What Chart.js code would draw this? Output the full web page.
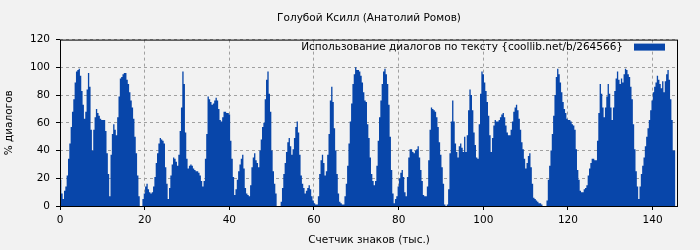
<!DOCTYPE html>
<html>
<head>
<meta charset="utf-8">
<script src="https://cdn.jsdelivr.net/npm/chart.js@4.4.1/dist/chart.umd.min.js"></script>
<style>
    html, body { margin: 0; padding: 0; background: #f2f2f2; }
</style>
</head>
<body>
<canvas id="chart" width="700" height="250"></canvas>
<script>
const chartTitle = "Голубой Ксилл (Анатолий Ромов)";
const legendLabel = "Использование диалогов по тексту {coollib.net/b/264566}";
const xTitle = "Счетчик знаков (тыс.)";
const yTitle = "% диалогов";

// one value every ~0.314 thousand characters
const xStep = 0.314;
const xMax = 146;
const yMax = 120;
const tickStep = 20;

const dialogShare = [
    27,19,9,5,11,14,22,34,45,57,68,77,89,97,98,99,94,83,73,63,
    68,84,96,86,55,40,55,64,70,67,65,63,62,62,62,54,38,23,7,37,
    52,59,55,51,64,79,92,93,95,96,96,91,88,82,76,71,63,50,38,22,
    7,0,0,5,9,14,16,12,10,9,10,14,21,31,38,45,
    49,48,47,45,28,16,5,13,22,30,35,34,32,29,37,54,71,97,88,
    53,34,27,29,30,29,27,26,25,25,24,22,18,14,18,34,52,79,77,75,
    73,74,76,78,76,70,62,61,64,68,68,67,67,66,47,34,21,8,12,19,
    25,30,34,37,27,13,9,8,7,15,28,35,38,33,31,28,40,48,57,
    60,77,91,97,81,68,40,25,16,9,0,0,0,3,13,23,31,39,46,49,
    43,37,41,49,57,61,53,37,22,16,13,9,11,13,15,12,7,4,2,1,
    1,7,23,33,37,31,22,25,37,52,76,86,75,56,40,23,9,3,2,1,
    1,7,16,29,45,61,74,88,95,100,98,98,97,94,89,82,76,
    75,59,49,35,23,18,15,18,29,47,64,76,88,97,99,95,88,73,50,26,
    9,2,5,7,14,20,24,26,21,10,7,21,35,41,41,39,38,40,41,43,
    35,26,18,8,7,7,14,33,55,71,70,69,68,64,57,46,37,28,16,1,
    0,1,12,38,61,76,61,45,39,35,43,45,42,39,50,39,
    51,69,84,80,69,53,44,35,34,59,81,97,95,89,83,75,65,51,39,49,
    58,62,61,61,62,64,66,67,64,58,53,51,51,55,61,68,71,73,69,63,
    55,46,41,34,27,31,36,38,28,16,6,5,4,3,2,2,1,0,0,0,
    4,19,29,40,52,65,80,93,99,95,89,82,75,70,67,63,62,
    62,61,59,58,55,41,26,19,11,10,10,12,13,15,22,27,31,34,34,33,
    33,47,67,88,81,71,64,71,79,88,81,71,62,71,83,92,97,91,88,92,
    89,95,99,98,95,93,86,77,59,41,25,14,5,14,23,29,35,43,50,56,
    62,69,76,82,86,89,94,91,88,85,90,82,90,95,98,91,77,62,40
];

const areaColor = "#0846aa";
const fontFamily = '"DejaVu Sans", sans-serif';
const fontSize = 10.5;

const points = dialogShare.map((v, i) => ({ x: i * xStep, y: v }));
points.push({ x: dialogShare.length * xStep, y: dialogShare[dialogShare.length - 1] });

const framePlugin = {
    id: "frame",
    afterDatasetsDraw(chart) {
        const { ctx, chartArea: a } = chart;
        ctx.save();
        ctx.strokeStyle = "#000";
        ctx.lineWidth = 1;
        ctx.strokeRect(a.left + 0.5, a.top + 0.5, a.right - a.left - 1, a.bottom - a.top);
        ctx.restore();
    }
};

const legendPlugin = {
    id: "insideLegend",
    afterDraw(chart) {
        const { ctx, chartArea: a } = chart;
        ctx.save();
        ctx.fillStyle = areaColor;
        ctx.fillRect(a.right - 44, a.top + 4, 31, 7);
        ctx.fillStyle = "#000";
        ctx.font = fontSize + "px " + fontFamily;
        ctx.textAlign = "right";
        ctx.textBaseline = "middle";
        ctx.fillText(legendLabel, a.right - 55, a.top + 7.5);
        ctx.restore();
    }
};

new Chart(document.getElementById("chart"), {
    type: "line",
    data: {
        datasets: [{
            label: legendLabel,
            data: points,
            stepped: "after",
            fill: "origin",
            backgroundColor: areaColor,
            borderColor: areaColor,
            borderWidth: 0,
            pointRadius: 0
        }]
    },
    options: {
        responsive: false,
        animation: false,
        layout: { padding: { right: 22 } },
        plugins: {
            legend: { display: false },
            tooltip: { enabled: false },
            title: {
                display: true,
                fullSize: false,
                text: chartTitle,
                color: "#000",
                font: { family: fontFamily, size: fontSize, weight: "normal" },
                padding: { top: 12, bottom: 15 }
            }
        },
        scales: {
            x: {
                type: "linear",
                min: 0,
                max: xMax,
                afterFit(scale) { scale.height = 44; },
                ticks: {
                    stepSize: tickStep,
                    includeBounds: false,
                    color: "#000",
                    padding: 4,
                    maxRotation: 0,
                    font: { family: fontFamily, size: fontSize }
                },
                grid: { color: "#a0a0a0", tickColor: "#000", tickLength: 4 },
                border: { display: false, dash: [3, 3] },
                title: {
                    display: true,
                    text: xTitle,
                    color: "#000",
                    font: { family: fontFamily, size: fontSize },
                    padding: { top: 0, bottom: 3 }
                }
            },
            y: {
                min: 0,
                max: yMax,
                afterFit(scale) { scale.width = 60; },
                ticks: {
                    stepSize: tickStep,
                    color: "#000",
                    padding: 6,
                    font: { family: fontFamily, size: fontSize }
                },
                grid: { color: "#a0a0a0", tickColor: "#000", tickLength: 4 },
                border: { display: false, dash: [3, 3] },
                title: {
                    display: true,
                    text: yTitle,
                    color: "#000",
                    font: { family: fontFamily, size: fontSize },
                    padding: { top: 3, bottom: 3 }
                }
            }
        }
    },
    plugins: [framePlugin, legendPlugin]
});
</script>
</body>
</html>
